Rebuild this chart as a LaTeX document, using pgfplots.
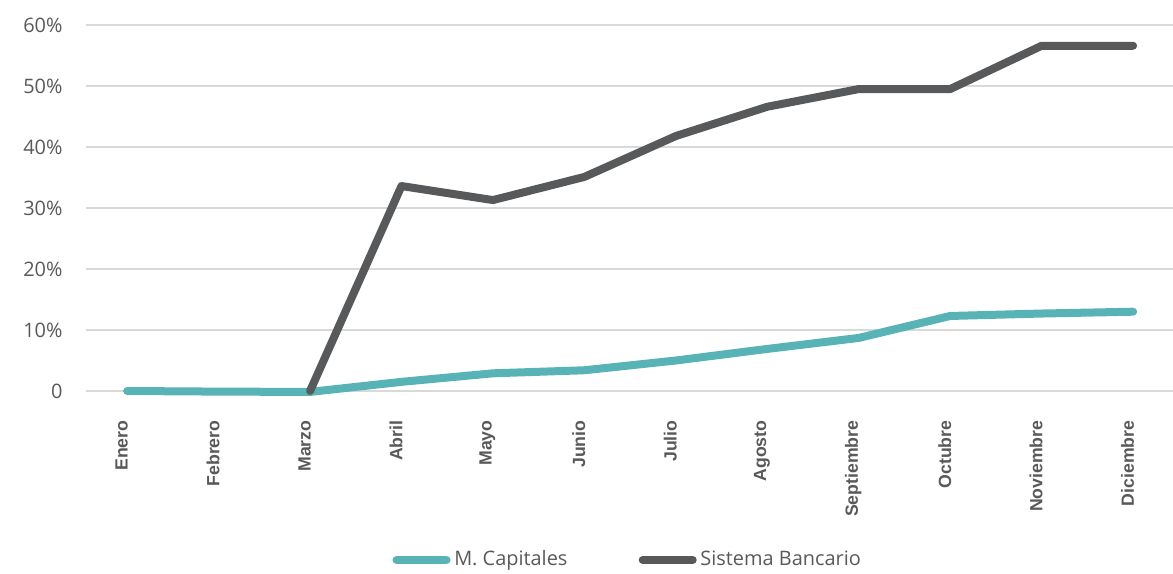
\documentclass[border=0pt]{standalone}
\usepackage{fontspec}
\setmainfont{Liberation Sans}
\newfontfamily\plexfont{Open Sans}
\usepackage{pgfplots}
\pgfplotsset{compat=1.18}

\definecolor{capitales}{HTML}{58B3B7}
\definecolor{bancario}{HTML}{58595B}
\definecolor{gridgray}{HTML}{D9D9D9}
\definecolor{textgray}{HTML}{595959}

\begin{document}
\begin{tikzpicture}
\begin{axis}[
    at={(0,0)}, anchor=south west,
    scale only axis,
    width=435.3bp, height=146.4bp,
    xmin=-0.45, xmax=11.45,
    ymin=0, ymax=60,
    clip=false,
    axis line style={draw=none},
    major tick length=0pt,
    xtick={0,...,11},
    xticklabels={Enero,Febrero,Marzo,Abril,Mayo,Junio,Julio,Agosto,Septiembre,Octubre,Noviembre,Diciembre},
    xticklabel style={xshift=-2.2bp, rotate=90, anchor=east, inner sep=0pt,
        font=\fontsize{7.1}{8}\selectfont\bfseries, text=textgray},
    xticklabel shift=11.6bp,
    ytick={0,10,20,30,40,50,60},
    yticklabels={0,10\%,20\%,30\%,40\%,50\%,60\%},
    yticklabel style={anchor=east, inner sep=0pt,
        font=\plexfont\fontsize{8}{9}\selectfont, text=textgray},
    yticklabel shift=9.2bp,
    ymajorgrids=true,
    grid style={gridgray, line width=0.6bp},
    legend columns=2,
    legend style={at={(axis description cs:0.4986,-0.4617)}, anchor=center,
        draw=none, fill=none, inner sep=0pt,
        nodes={inner xsep=1.5bp},
        font=\plexfont\fontsize{8}{9}\selectfont, text=textgray,
        /tikz/every even column/.append style={column sep=27bp}},
    legend image code/.code={\draw[#1] (0bp,0bp) -- (20bp,0bp);},
    every axis plot/.append style={line width=3.2bp, line cap=round, line join=round},
]

\addplot[capitales] coordinates {
    (0,0.0)(1,-0.1)(2,-0.15)(3,1.5)(4,2.9)(5,3.4)(6,5.0)(7,6.9)(8,8.7)(9,12.3)(10,12.7)(11,13.0)
};
\addlegendentry{M. Capitales}

\addplot[bancario] coordinates {
    (2,0.0)(3,33.6)(4,31.3)(5,35.1)(6,41.8)(7,46.6)(8,49.5)(9,49.5)(10,56.6)(11,56.6)
};
\addlegendentry{Sistema Bancario}

\end{axis}
\pgfresetboundingbox
\path (-34.4bp,-73.2bp) rectangle (434.8bp,156.4bp);
\end{tikzpicture}
\end{document}
